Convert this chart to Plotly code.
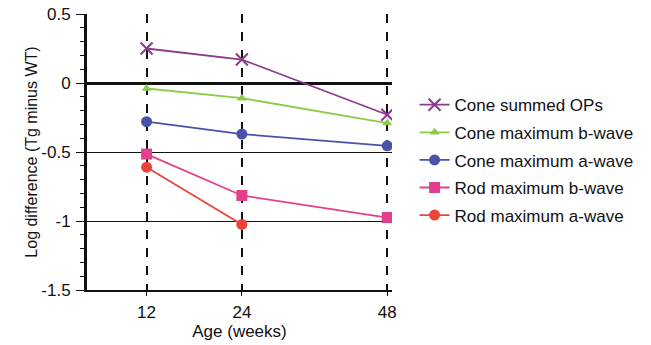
import plotly.graph_objects as go

ages = [12, 24, 48]
age_labels = ["12", "24", "48"]
age_pos = [1.25, 3.25, 6.3]  # horizontal placement of each age on the axis

series_names = ["Cone summed OPs", "Cone maximum b-wave", "Cone maximum a-wave",
                "Rod maximum b-wave", "Rod maximum a-wave"]
cone_ops = [0.25, 0.17, -0.23]
cone_b = [-0.04, -0.11, -0.29]
cone_a = [-0.28, -0.37, -0.455]
rod_b = [-0.515, -0.815, -0.975]
rod_a = [-0.61, -1.025]

values = [cone_ops, cone_b, cone_a, rod_b, rod_a]
colors = ["#8B3A8E", "#8CCB48", "#4A52A8", "#E2408A", "#E84438"]
symbols = ["x-thin-open", "triangle-up", "circle", "square", "circle"]
sizes = [12, 9, 11, 11, 11]

fig = go.Figure()
for i, (name, vals) in enumerate(zip(series_names, values)):
    fig.add_trace(go.Scatter(
        x=age_pos[:len(vals)], y=vals, name=name, mode="lines+markers",
        legendgroup=f"g{i}",
        line=dict(color=colors[i], width=1.8),
        marker=dict(symbol=symbols[i], size=sizes[i], color=colors[i],
                    line=dict(color=colors[i], width=2 if i == 0 else 0)),
    ))

fam = "Liberation Sans, Arial, sans-serif"
fig.update_layout(
    width=651, height=345,
    margin=dict(l=87, r=254, t=14, b=55),
    paper_bgcolor="white", plot_bgcolor="white",
    font=dict(family=fam, size=15, color="#111"),
    showlegend=True,
    legend=dict(x=1.074, y=0.735, xanchor="left", yanchor="top",
                traceorder="grouped", tracegroupgap=2.5,
                font=dict(family=fam, size=17, color="#111"), itemwidth=30),
    xaxis=dict(range=[0, 6.4], tickvals=age_pos, ticktext=age_labels,
               automargin=False,
               showgrid=True, gridcolor="#111", griddash="dash", gridwidth=2,
               showline=True, linecolor="#111", linewidth=2,
               ticks="outside", ticklen=4, tickcolor="#111",
               ticklabelstandoff=2, zeroline=False,
               tickfont=dict(family=fam, size=17, color="#111"),
               title=dict(text="Age (weeks)", standoff=2,
                          font=dict(family=fam, size=17, color="#111"))),
    yaxis=dict(range=[-1.5, 0.5], tickvals=[0.5, 0, -0.5, -1, -1.5],
               ticktext=["0.5", "0", "-0.5", "-1", "-1.5"],
               automargin=False,
               showgrid=True, gridcolor="#111", gridwidth=1.3,
               zeroline=True, zerolinecolor="#111", zerolinewidth=3,
               showline=True, linecolor="#111", linewidth=3,
               ticks="outside", ticklen=8, tickcolor="#111",
               ticklabelstandoff=2,
               tickfont=dict(family=fam, size=17, color="#111"),
               minor=dict(dtick=0.1, ticks="outside", ticklen=4, tickcolor="#111", showgrid=False),
               title=dict(text="Log difference (Tg minus WT)", standoff=0,
                          font=dict(family=fam, size=16, color="#111"))),
)

fig.write_html("out.html")
